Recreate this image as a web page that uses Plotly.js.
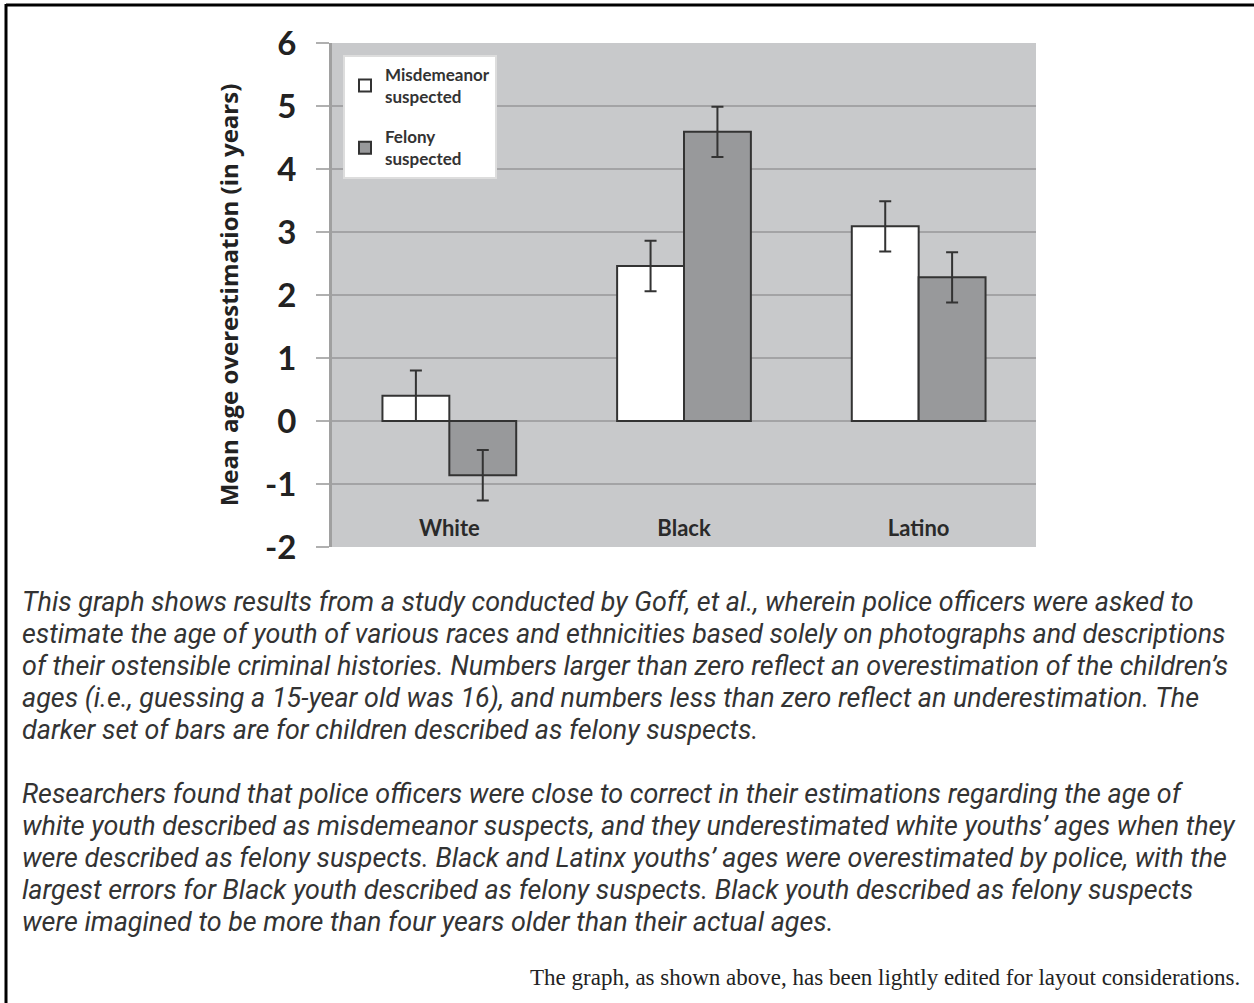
<!DOCTYPE html>
<html>
<head>
<meta charset="utf-8">
<script src="https://cdn.plot.ly/plotly-3.0.1.min.js"></script>
<style>
  html, body { margin: 0; padding: 0; background: #fff; }
  #chart { width: 1254px; height: 1003px; }
</style>
</head>
<body>
<div id="chart"></div>
<script>
// ---- data ----
const categories = ["White", "Black", "Latino"];
const misdemeanorValues = [0.40, 2.46, 3.09];
const misdemeanorErrors = [0.40, 0.40, 0.40];
const felonyValues = [-0.86, 4.59, 2.28];
const felonyErrors = [0.40, 0.40, 0.40];
const seriesNames = ["Misdemeanor<br>suspected", "Felony<br>suspected"];
const yTickValues = [-2, -1, 0, 1, 2, 3, 4, 5, 6];
const yAxisTitle = "Mean age overestimation (in years)";
const captionParagraph1 = [
  "This graph shows results from a study conducted by Goff, et al., wherein police officers were asked to",
  "estimate the age of youth of various races and ethnicities based solely on photographs and descriptions",
  "of their ostensible criminal histories. Numbers larger than zero reflect an overestimation of the children\u2019s",
  "ages (i.e., guessing a 15-year old was 16), and numbers less than zero reflect an underestimation. The",
  "darker set of bars are for children described as felony suspects."
];
const captionParagraph2 = [
  "Researchers found that police officers were close to correct in their estimations regarding the age of",
  "white youth described as misdemeanor suspects, and they underestimated white youths\u2019 ages when they",
  "were described as felony suspects. Black and Latinx youths\u2019 ages were overestimated by police, with the",
  "largest errors for Black youth described as felony suspects. Black youth described as felony suspects",
  "were imagined to be more than four years older than their actual ages."
];
const footerNote = "The graph, as shown above, has been lightly edited for layout considerations.";

// ---- layout helpers (pixel -> paper) ----
const W = 1254, H = 1003;
const PL = 332, PR = 1036, PT = 43, PB = 547;
const px = x => (x - PL) / (PR - PL);
const py = y => (PB - y) / (PB - PT);

const barLine = { color: "#333333", width: 2 };
const errStyle = { type: "data", symmetric: true, color: "#333333", thickness: 2, width: 6 };

const traces = [
  {
    type: "bar", name: seriesNames[0], x: categories, y: misdemeanorValues, legendgroup: "m",
    marker: { color: "#ffffff", line: barLine },
    error_y: Object.assign({ array: misdemeanorErrors }, errStyle)
  },
  {
    type: "bar", name: seriesNames[1], x: categories, y: felonyValues, legendgroup: "f",
    marker: { color: "#98999b", line: barLine },
    error_y: Object.assign({ array: felonyErrors }, errStyle)
  }
];

const annotations = [];
const captionFont = { family: "Roboto", size: 26.9, color: "#333333", style: "italic" };
const lineY1 = [602, 634, 666, 698, 730];
const lineY2 = [794, 826, 858, 890, 922];
captionParagraph1.forEach((t, i) => annotations.push({
  xref: "paper", yref: "paper", x: px(20), y: py(lineY1[i]), xanchor: "left", yanchor: "middle",
  text: t, showarrow: false, font: captionFont, align: "left"
}));
captionParagraph2.forEach((t, i) => annotations.push({
  xref: "paper", yref: "paper", x: px(20), y: py(lineY2[i]), xanchor: "left", yanchor: "middle",
  text: t, showarrow: false, font: captionFont, align: "left"
}));
annotations.push({
  xref: "paper", yref: "paper", x: px(1242), y: py(977), xanchor: "right", yanchor: "middle",
  text: footerNote, showarrow: false,
  font: { family: "Liberation Serif", size: 23, color: "#222222" }
});

const layout = {
  width: W, height: H,
  margin: { l: PL, r: W - PR, t: PT, b: H - PB, pad: 0 },
  paper_bgcolor: "#ffffff",
  plot_bgcolor: "#c8c9cb",
  barmode: "group",
  bargap: 0.43,
  bargroupgap: 0,
  showlegend: true,
  legend: {
    x: px(343), y: py(55), xanchor: "left", yanchor: "top",
    bgcolor: "#ffffff", bordercolor: "#dddddd", borderwidth: 2,
    font: { family: "Lato", size: 17, color: "#333333", weight: "bold" },
    tracegroupgap: 15, itemwidth: 30
  },
  xaxis: {
    type: "category", range: [-0.5, 2.5],
    showgrid: false, zeroline: false, showline: false,
    ticks: "", ticklabelposition: "outside", ticklabelstandoff: -34,
    tickfont: { family: "Lato", size: 22, color: "#2a2a2a", weight: "bold" },
    fixedrange: true
  },
  xaxis2: {
    overlaying: "x", anchor: "free", position: py(420),
    range: [-0.5, 2.5], tickvals: [0.5, 1.5], ticks: "outside", ticklen: 5,
    tickcolor: "#999999", tickwidth: 2, showticklabels: false,
    showgrid: false, zeroline: false, showline: false
  },
  yaxis: {
    range: [-2, 6], tickvals: yTickValues, ticktext: yTickValues.map(String),
    showgrid: true, gridcolor: "#a3a3a5", gridwidth: 2,
    zeroline: true, zerolinecolor: "#a3a3a5", zerolinewidth: 2,
    showline: true, linecolor: "#a0a0a0", linewidth: 3,
    ticks: "outside", ticklen: 13, tickcolor: "#b0b0b0", tickwidth: 2,
    ticklabelstandoff: 13,
    tickfont: { family: "Lato", size: 33, color: "#222222", weight: "bold" },
    title: { text: yAxisTitle, standoff: 20,
             font: { family: "Open Sans", size: 24, color: "#222222", weight: "bold" } },
    fixedrange: true
  },
  shapes: [
    { type: "line", xref: "paper", yref: "paper", x0: px(6), x1: px(1256), y0: py(5), y1: py(5),
      line: { color: "#000000", width: 3 } },
    { type: "line", xref: "paper", yref: "paper", x0: px(6), x1: px(6), y0: py(4), y1: py(1005),
      line: { color: "#000000", width: 3 } }
  ],
  annotations: annotations
};

Plotly.newPlot("chart", traces, layout, { displayModeBar: false, staticPlot: true });
</script>
</body>
</html>
